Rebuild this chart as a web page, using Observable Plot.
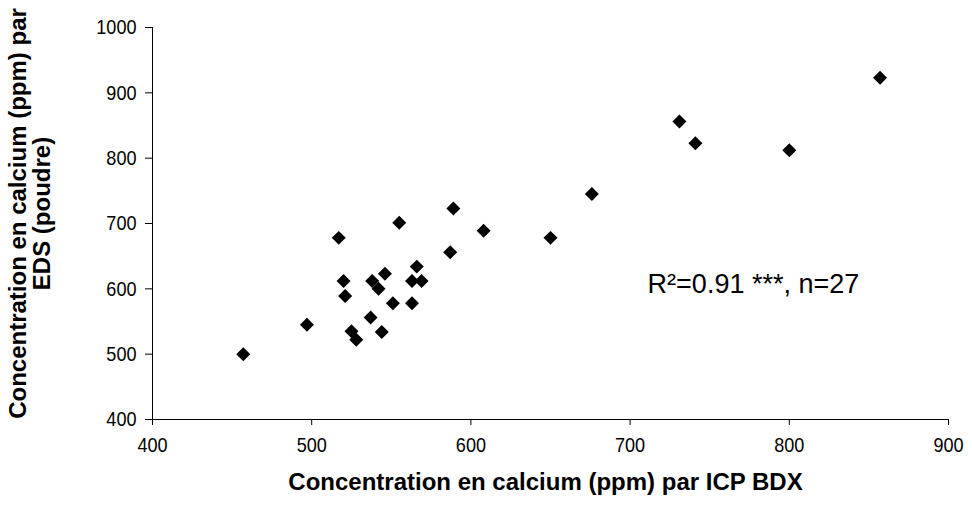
<!DOCTYPE html>
<html>
<head>
<meta charset="utf-8">
<script src="https://cdn.jsdelivr.net/npm/d3@7"></script>
<script src="https://cdn.jsdelivr.net/npm/@observablehq/plot@0.6"></script>
<style>
  html, body { margin: 0; padding: 0; background: #fff; }
  #chart svg { display: block; }
</style>
</head>
<body>
<div id="chart"></div>
<script>
// Data
const icpBDX = [457, 497, 517, 520, 521, 525, 528, 537, 538, 542, 544, 546, 551, 555, 563, 563, 566, 569, 587, 589, 608, 650, 676, 731, 741, 800, 857];
const edsPoudre = [500, 545, 678, 612, 589, 535, 522, 556, 612, 600, 534, 623, 578, 701, 578, 612, 634, 612, 656, 723, 689, 678, 745, 856, 823, 812, 923];
const xTicks = [400, 500, 600, 700, 800, 900];
const yTicks = [400, 500, 600, 700, 800, 900, 1000];
const xTitle = "Concentration en calcium (ppm) par ICP BDX";
const yTitle = "Concentration en calcium (ppm) par\nEDS (poudre)";
const annotationText = ["R²=0.91 ***, n=27"];
const annotationAt = {x: 711, y: 607};

const points = icpBDX.map((x, i) => ({x, y: edsPoudre[i]}));
const plain = d => String(d);

const chart = Plot.plot({
  width: 972,
  height: 510,
  marginLeft: 152,
  marginRight: 24,
  marginTop: 27,
  marginBottom: 91,
  style: {fontFamily: "'Liberation Sans', Arial, sans-serif", fontSize: "21px", color: "#000", background: "#fff"},
  x: {domain: [400, 900]},
  y: {domain: [400, 1000]},
  marks: [
    Plot.axisX({ticks: xTicks, tickFormat: plain, tickSize: 6, tickPadding: 12, label: null, fontSize: 21, stroke: "#000"}),
    Plot.axisY({ticks: yTicks, tickFormat: plain, tickSize: 7, tickPadding: 9, label: null, fontSize: 21, stroke: "#000"}),
    Plot.ruleX([400], {stroke: "#000", strokeWidth: 1}),
    Plot.ruleY([400], {stroke: "#000", strokeWidth: 1}),
    Plot.dot(points, {x: "x", y: "y", symbol: "diamond2", r: 6.3, fill: "#000", stroke: null}),
    Plot.text(annotationText, {x: () => annotationAt.x, y: () => annotationAt.y, textAnchor: "start", fontSize: 27, fill: "#000"}),
    Plot.text([xTitle], {frameAnchor: "bottom", dx: -5, dy: 63, textAnchor: "middle", lineAnchor: "middle", fontSize: 24, fontWeight: "bold", fill: "#000"}),
    Plot.text([yTitle], {frameAnchor: "left", dx: -122, dy: -10, rotate: -90, textAnchor: "middle", lineAnchor: "middle", lineHeight: 1.0, fontSize: 24, fontWeight: "bold", fill: "#000"})
  ]
});
document.getElementById("chart").appendChild(chart);

// Tick labels in the reference are tall and slightly narrow
chart.querySelectorAll('g[aria-label$="tick label"] text').forEach(t => {
  const len = t.getComputedTextLength();
  t.setAttribute("textLength", (len * 0.86).toFixed(2));
  t.setAttribute("lengthAdjust", "spacingAndGlyphs");
});
</script>
</body>
</html>
